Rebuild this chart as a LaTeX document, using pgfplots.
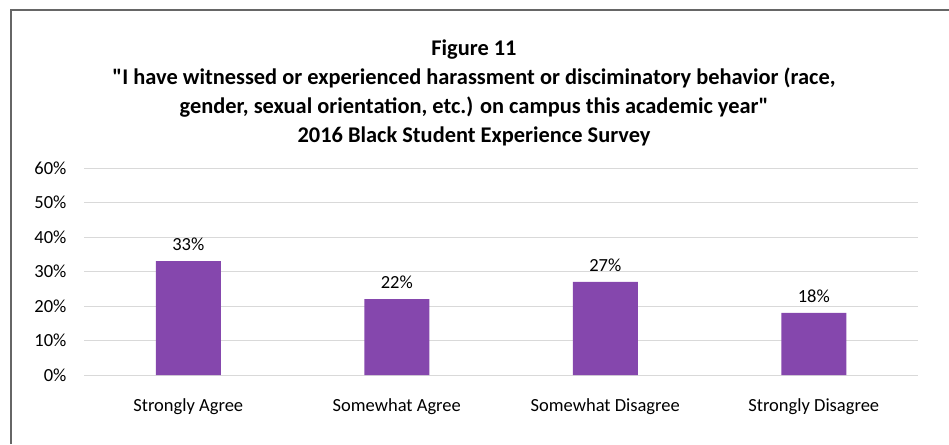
\documentclass[border=0pt]{standalone}
\usepackage{pgfplots}
\pgfplotsset{compat=1.18}
\usepackage{fontspec}
\setmainfont{Carlito}
\newfontfamily\titlefont{Carlito}
\definecolor{barpurple}{HTML}{8547AD}
\definecolor{gridgray}{HTML}{D9D9D9}
\begin{document}
\begin{tikzpicture}[x=1pt,y=1pt]
\path[use as bounding box] (0,0) rectangle (949,444);
\draw[color=black!60, line width=1.3pt] (11,0) -- (11,434) -- (949,434);
\node[align=center, font=\titlefont\fontsize{22.4}{29}\selectfont\bfseries] at (474,351.5) {Figure 11\\
"I have witnessed or experienced harassment or disciminatory behavior (race,\\
gender, sexual orientation, etc.) on campus this academic year"\\
2016 Black Student Experience Survey};
\begin{axis}[
  at={(84pt,69pt)}, anchor=south west,
  scale only axis, width=834pt, height=207pt,
  xmin=-0.5, xmax=3.5, ymin=0, ymax=60,
  xtick={0,1,2,3},
  xticklabels={Strongly Agree, Somewhat Agree, Somewhat Disagree, Strongly Disagree},
  ytick={0,10,20,30,40,50,60},
  yticklabel={\pgfmathprintnumber{\tick}\%},
  /pgf/number format/assume math mode=true,
  ymajorgrids, grid style={gridgray, line width=1pt},
  axis line style={draw=none},
  major tick length=0pt,
  tick label style={font=\fontsize{18.5}{22}\selectfont},
  yticklabel style={xshift=-14pt},
  xticklabel style={yshift=-20pt},
  ybar, bar width=65pt,
  nodes near coords={\pgfmathprintnumber{\pgfplotspointmeta}\%},
  every node near coord/.append style={font=\fontsize{18.5}{22}\selectfont, yshift=7pt},
]
\addplot[fill=barpurple, draw=none] coordinates {(0,33) (1,22) (2,27) (3,18)};
\end{axis}
\end{tikzpicture}
\end{document}
